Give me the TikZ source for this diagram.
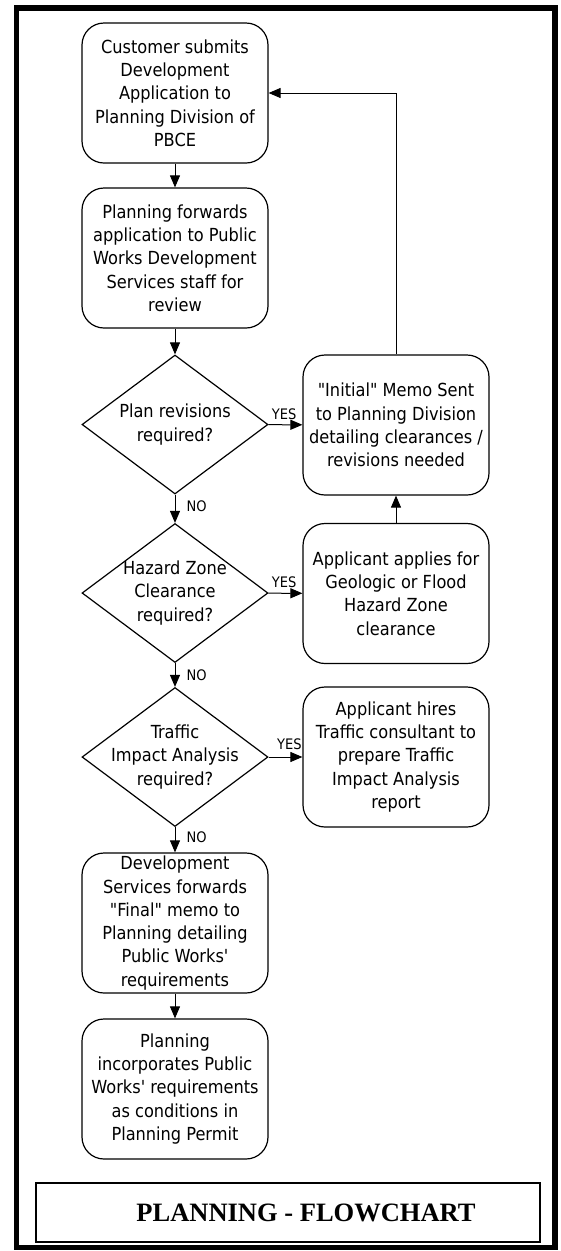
\documentclass[tikz,border=0pt]{standalone}
\usepackage{fontspec}
\newfontfamily\boxfont{DejaVu Sans Condensed}
\newfontfamily\titlefont{Liberation Serif}
\usetikzlibrary{arrows.meta,positioning,shapes.geometric}

\begin{document}
\begin{tikzpicture}[x=1pt,y=-1pt,font=\boxfont\fontsize{18}{23.3}\selectfont,
  stepbox/.style={draw,line width=1.2pt,rounded corners=22pt,minimum width=186pt,minimum height=140pt,inner sep=1pt,align=center},
  decision/.style={draw,diamond,line width=1.2pt,minimum width=186pt,minimum height=139pt,inner sep=0pt},
  dtext/.style={align=center,inner sep=0pt},
  flow/.style={line width=1pt,-{Triangle[length=12pt,width=10pt]}},
  yes/.style={font=\boxfont\fontsize{14.5}{16}\selectfont,inner sep=0pt,anchor=south west,xshift=3pt,yshift=5pt},
  no/.style={font=\boxfont\fontsize{14.5}{16}\selectfont,inner sep=0pt,anchor=west,xshift=11pt}]
\useasboundingbox (0,0) rectangle (561,1251);
\draw[line width=5.5pt] (16.5,8) rectangle (555,1247.5);
\node[stepbox] (submit) at (175,93) {Customer submits\\Development\\Application to\\Planning Division of\\PBCE};
\node[stepbox] (forward) at (175,258) {Planning forwards\\application to Public\\Works Development\\Services staff for\\review};
\node[decision,label={[dtext]center:{Plan revisions\\required?}}] (revq) at (175,424.5) {};
\node[stepbox] (memo) at (396,425) {"Initial" Memo Sent\\to Planning Division\\detailing clearances /\\revisions needed};
\node[decision,label={[dtext]center:{Hazard Zone\\Clearance\\required?}}] (hazq) at (175,593) {};
\node[stepbox] (hazard) at (396,593.5) {Applicant applies for\\Geologic or Flood\\Hazard Zone\\clearance};
\node[decision,label={[dtext]center:{Traffic\\Impact Analysis\\required?}}] (tiaq) at (175,757) {};
\node[stepbox] (tia) at (396,757) {Applicant hires\\Traffic consultant to\\prepare Traffic\\Impact Analysis\\report};
\node[stepbox] (final) at (175,923) {Development\\Services forwards\\"Final" memo to\\Planning detailing\\Public Works'\\requirements};
\node[stepbox] (permit) at (175,1089) {Planning\\incorporates Public\\Works' requirements\\as conditions in\\Planning Permit};
\node[draw,line width=1.7pt,minimum width=504pt,minimum height=59pt,
  label={[font=\titlefont\bfseries\fontsize{26.5}{30}\selectfont,xshift=18pt]center:PLANNING - FLOWCHART}] (title) at (288,1212.5) {};
\draw[flow] (submit) -- (forward);
\draw[flow] (forward) -- (revq);
\draw[flow] (revq) -- node[no,pos=.4]{NO} (hazq);
\draw[flow] (hazq) -- node[no,pos=.5]{NO} (tiaq);
\draw[flow] (tiaq) -- node[no,pos=.4]{NO} (final);
\draw[flow] (final) -- (permit);
\draw[flow] (revq) -- node[yes,pos=0]{YES} (memo);
\draw[flow] (hazq) -- node[yes,pos=0]{YES} (hazard);
\draw[flow] (tiaq) -- node[yes,pos=0,xshift=5pt,yshift=2pt]{YES} (tia);
\draw[flow] (hazard) -- (memo);
\draw[flow] (memo.north) -- (memo.north |- submit.east) -- (submit.east);
\end{tikzpicture}
\end{document}
